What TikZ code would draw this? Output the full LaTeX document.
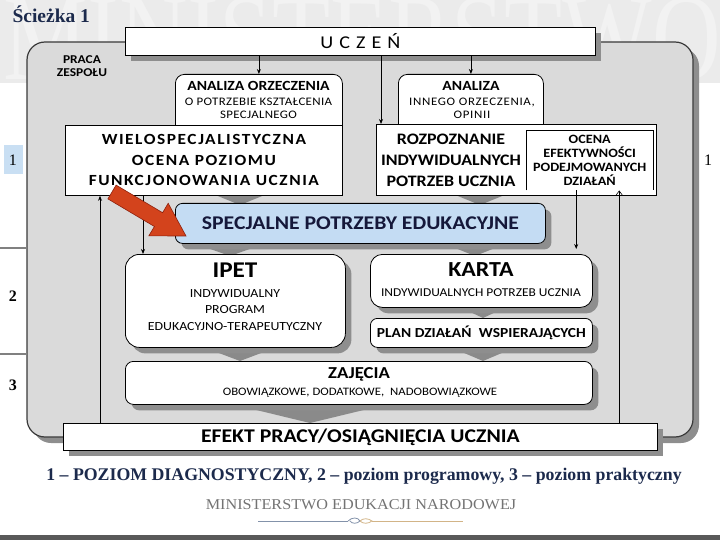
\documentclass[tikz,border=0pt]{standalone}
\usepackage{fontspec}
\setmainfont{Carlito}[FakeStretch=1.12]
\newfontfamily\serif{Liberation Serif}
\newfontfamily\serifwide{Liberation Serif}[FakeStretch=1.08]
\usetikzlibrary{arrows.meta,shadows,calc}
\definecolor{bandgray}{HTML}{EBEBEB}
\definecolor{wmark}{HTML}{F2F2F2}
\definecolor{panel}{HTML}{DADADA}
\definecolor{panelborder}{HTML}{3A3A3A}
\definecolor{shadowgray}{HTML}{8E8E8E}
\definecolor{chev}{HTML}{8A8A8A}
\definecolor{navy}{HTML}{1C2A4C}
\definecolor{spblue}{HTML}{C4DCF3}
\definecolor{spnavy}{HTML}{15183A}
\definecolor{redarrow}{HTML}{D3431C}
\definecolor{redborder}{HTML}{8E200C}
\definecolor{labelblue}{HTML}{C9DFF3}
\definecolor{orngrey}{HTML}{8392AA}
\definecolor{orntan}{HTML}{D2B487}
\begin{document}
\begin{tikzpicture}[x=1pt,y=-1pt,
  sqbox/.style={draw=black, fill=white, line width=0.8pt, inner sep=0pt},
  rbox/.style={draw=black, fill=white, line width=0.8pt, inner sep=0pt, rounded corners=#1},
  rbox/.default=9pt,
  shade6/.style={drop shadow={shadow xshift=6pt, shadow yshift=-6pt, fill=shadowgray, opacity=1}},
  conn/.style={-{Stealth[length=5pt,width=4pt]}, line width=0.8pt},
  chevron/.style={fill=chev},
  levellabel/.style={font=\serif\bfseries\fontsize{16}{18}\selectfont},
  smalltxt/.style={font=\fontsize{11.5}{13}\selectfont\addfontfeature{LetterSpace=3}, align=center},
  headtxt/.style={font=\bfseries\fontsize{14}{15}\selectfont}
]
\useasboundingbox (0,0) rectangle (720,540);

% top band with watermark
\fill[bandgray] (0,0) rectangle (720,83);
\begin{scope}
  \clip (0,0) rectangle (720,83);
  \node[font=\serif\fontsize{95}{95}\selectfont, text=wmark, anchor=base, yscale=1.3] (wm) at (362,80) {MINISTERSTWO};
\end{scope}

% title
\node[font=\serif\bfseries\fontsize{19.5}{22}\selectfont, text=navy, anchor=base west] (title) at (9,23) {Ścieżka 1};

% main panel
\draw[fill=panel, draw=panelborder, line width=1.2pt, rounded corners=18pt,
      drop shadow={shadow xshift=6pt, shadow yshift=-6pt, fill=shadowgray, opacity=1}]
  (27,42) rectangle (693,437);

% left level separators and labels
\draw[gray, line width=1.5pt] (0,248) -- (27,248);
\draw[gray, line width=1.5pt] (0,354) -- (27,354);
\node[fill=labelblue, minimum width=19pt, minimum height=29pt, inner sep=0pt, font=\serif\fontsize{16}{18}\selectfont] (l1) at (13,160) {1};
\node[levellabel] (l2) at (13,296) {2};
\node[levellabel] (l3) at (13,385) {3};
\node[font=\serif\fontsize{16}{18}\selectfont] (r1) at (708,160) {1};

% PRACA ZESPOLU
\node[font=\bfseries\fontsize{12}{12.5}\selectfont, align=center] (praca) at (82,66) {PRACA\\ZESPOŁU};

% chevrons (decorative down arrows)
\fill[chevron] (203,190) -- (277,190) -- (240,205) -- cycle;
\fill[chevron] (443,190) -- (517,190) -- (480,205) -- cycle;
\fill[chevron] (185,240) -- (275,240) -- (230,256) -- cycle;
\fill[chevron] (435,240) -- (515,240) -- (475,256) -- cycle;
\fill[chevron] (453,304) -- (513,304) -- (483,318) -- cycle;
\fill[chevron] (195,344) -- (285,344) -- (240,361) -- cycle;
\fill[chevron] (443,344) -- (523,344) -- (483,361) -- cycle;
\fill[chevron] (215,400) -- (405,400) -- (310,423) -- cycle;

% UCZEN
\node[sqbox, shade6, anchor=north west, minimum width=470pt, minimum height=28pt,
      font=\fontsize{18}{20}\selectfont] (uczen) at (125,27)
  {U\hspace{6pt}C\hspace{6pt}Z\hspace{6pt}E\hspace{6pt}Ń};

% ANALIZA ORZECZENIA
\node[rbox, anchor=north west, minimum width=167pt, minimum height=70pt] (anorz) at (175,74) {};
\node[headtxt] (anorz-h) at (258.5,86) {ANALIZA ORZECZENIA};
\node[smalltxt] (anorz-s) at (258.5,108) {O POTRZEBIE KSZTAŁCENIA\\SPECJALNEGO};

% ANALIZA
\node[rbox, anchor=north west, minimum width=145pt, minimum height=70pt] (anal) at (398,74) {};
\node[headtxt] (anal-h) at (471,86) {ANALIZA};
\node[smalltxt, font=\fontsize{11.5}{13}\selectfont\addfontfeature{LetterSpace=6}] (anal-s) at (472,108) {INNEGO ORZECZENIA,\\OPINII};

% WIELOSPECJALISTYCZNA
\node[sqbox, anchor=north west, minimum width=277pt, minimum height=70pt, align=center,
      font=\bfseries\fontsize{15.5}{20.5}\selectfont\addfontfeature{LetterSpace=10}] (wielo) at (65,125)
  {WIELOSPECJALISTYCZNA\\OCENA POZIOMU\\FUNKCJONOWANIA UCZNIA};

% ROZPOZNANIE
\node[sqbox, anchor=north west, minimum width=280pt, minimum height=71pt] (rozp) at (376,124) {};
\node[font=\bfseries\fontsize{16}{21}\selectfont, align=center] (rozp-t) at (451,160)
  {ROZPOZNANIE\\INDYWIDUALNYCH\\POTRZEB UCZNIA};
\node[anchor=north west, minimum width=127pt, minimum height=60pt, inner sep=0pt, align=center,
      font=\bfseries\fontsize{12.7}{13.8}\selectfont] (ocena) at (526,130)
  {OCENA\\EFEKTYWNOŚCI\\PODEJMOWANYCH\\DZIAŁAŃ};
\draw[line width=0.8pt] (ocena.south west) -- (ocena.north west) -- (ocena.north east) -- (ocena.south east);

% SPECJALNE POTRZEBY EDUKACYJNE
\node[rbox=7pt, shade6, fill=spblue, anchor=north west, minimum width=370pt, minimum height=40pt,
      text=spnavy, font=\bfseries\fontsize{19.4}{21}\selectfont] (spe) at (175,203)
  {SPECJALNE POTRZEBY EDUKACYJNE};

% IPET
\node[rbox=14pt, shade6, anchor=north west, minimum width=220pt, minimum height=93pt] (ipet) at (125,254) {};
\node[font=\bfseries\fontsize{22.5}{24}\selectfont] (ipet-h) at (235,270) {IPET};
\node[font=\fontsize{12.4}{16.5}\selectfont, align=center] (ipet-s) at (235,310)
  {INDYWIDUALNY\\PROGRAM\\EDUKACYJNO-TERAPEUTYCZNY};

% KARTA
\node[rbox=12pt, shade6, anchor=north west, minimum width=222pt, minimum height=53pt] (karta) at (370,254) {};
\node[font=\bfseries\fontsize{21.4}{23}\selectfont] (karta-h) at (481,270) {KARTA};
\node[font=\fontsize{12}{13}\selectfont] (karta-s) at (481,293) {INDYWIDUALNYCH POTRZEB UCZNIA};

% PLAN
\node[rbox=7pt, shade6, anchor=north west, minimum width=222pt, minimum height=29pt,
      font=\bfseries\fontsize{13.8}{15}\selectfont] (plan) at (370,318)
  {PLAN DZIAŁAŃ\hspace{4pt} WSPIERAJĄCYCH};

% ZAJECIA
\node[rbox=8pt, shade6, anchor=north west, minimum width=467pt, minimum height=43pt] (zaj) at (125,361) {};
\node[font=\bfseries\fontsize{16.7}{18}\selectfont] (zaj-h) at (359,374) {ZAJĘCIA};
\node[font=\fontsize{11.4}{12}\selectfont] (zaj-s) at (360,393) {OBOWIĄZKOWE, DODATKOWE,\hspace{3pt} NADOBOWIĄZKOWE};

% EFEKT
\node[sqbox, shade6, anchor=north west, minimum width=594pt, minimum height=27pt,
      font=\bfseries\fontsize{19.4}{21}\selectfont] (efekt) at (63,423)
  {EFEKT PRACY/OSIĄGNIĘCIA UCZNIA};

% connector anchor points
\coordinate (rozpIn) at ([xshift=5pt]rozp.north west);
\coordinate (wieloIn) at ([xshift=35pt]wielo.south west);
\coordinate (ipetIn) at ([xshift=18pt]ipet.north west);
\coordinate (ocenaOut) at ([xshift=-13.5pt]ocena.south);
\coordinate (ocenaIn) at ([xshift=29.5pt]ocena.south);

% connectors
\draw[conn] (uczen.south -| anorz.north) -- (anorz.north);
\draw[conn] (uczen.south -| anal.north) -- (anal.north);
\draw[conn] (uczen.south -| rozpIn) -- (rozpIn);
\draw[conn] (efekt.north -| wieloIn) -- (wieloIn);
\draw[conn] (wielo.south -| ipetIn) -- (ipetIn);
\draw[conn, shorten >=5pt] (ocenaOut) -- (karta.north -| ocenaOut);
\draw[line width=0.6pt, -{Straight Barb[length=4pt,width=6pt]}] (efekt.north -| ocenaIn) -- (ocenaIn);

% red arrow
\draw[fill=redarrow, draw=redborder, line width=0.6pt]
  (116.1,185.1) -- (162.6,212.7) -- (168.2,203.3) -- (186,236) -- (148.8,235.9) -- (154.4,226.5) -- (107.9,198.9) -- cycle;

% caption
\node[font=\serif\bfseries\fontsize{17.8}{19}\selectfont, text=navy] (caption) at (364,476)
  {1 – POZIOM DIAGNOSTYCZNY, 2 – poziom programowy, 3 – poziom praktyczny};
\node[font=\serifwide\fontsize{15}{16}\selectfont, text=gray!90!black] (men) at (361,505) {MINISTERSTWO EDUKACJI NARODOWEJ};

% ornament line
\draw[orngrey, line width=0.7pt] (258,521) -- (348,521);
\draw[orntan, line width=0.7pt] (372,521) -- (463,521);
\draw[orngrey, line width=0.8pt] (348,521) .. controls (352,517) and (358,517) .. (360,521) .. controls (357,524) and (352,524) .. (350,521);
\draw[orntan, line width=0.8pt] (360,521) .. controls (363,518) and (368,518) .. (372,521) .. controls (368,524) and (363,524) .. (360,521);

% bottom bar
\fill[gray!70!black] (0,535) rectangle (720,540);
\end{tikzpicture}
\end{document}
